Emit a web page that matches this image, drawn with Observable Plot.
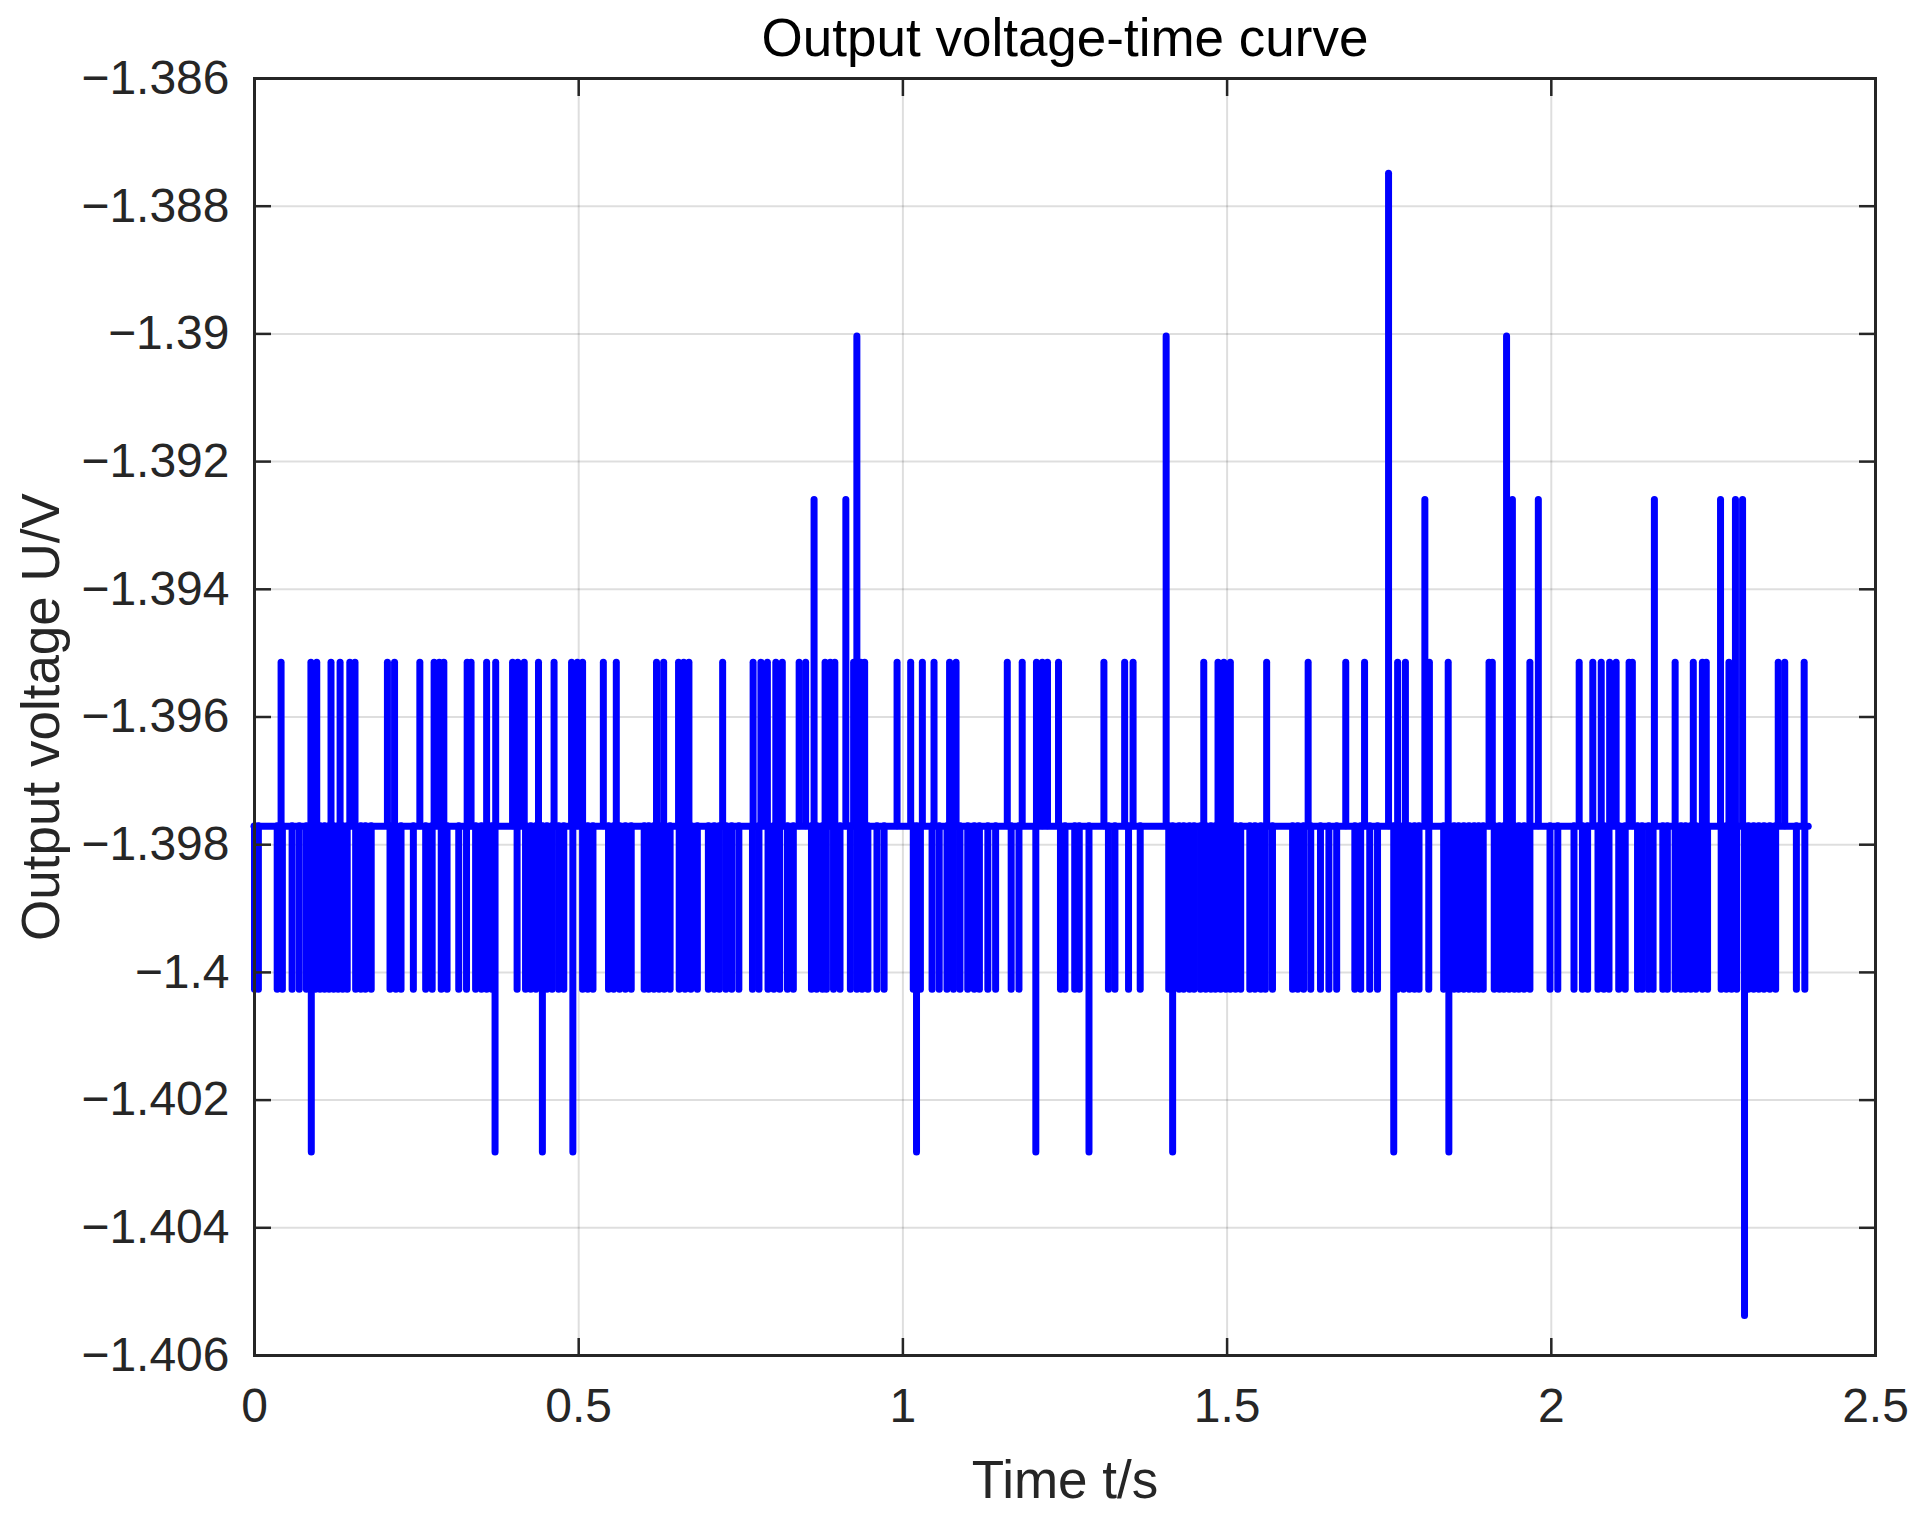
<!DOCTYPE html>
<html>
<head>
<meta charset="utf-8">
<script src="https://cdn.jsdelivr.net/npm/d3@7"></script>
<script src="https://cdn.jsdelivr.net/npm/@observablehq/plot@0.6"></script>
<style>
  html, body { margin: 0; padding: 0; background: #fff; }
</style>
</head>
<body>
<div id="chart"></div>
<script>
// ---- data ----
const titleText = "Output voltage-time curve";
const xLabel = "Time t/s";
const yLabel = "Output voltage U/V";
const xTicks = [0, 0.5, 1, 1.5, 2, 2.5];
const yTicks = [-1.406, -1.404, -1.402, -1.4, -1.398, -1.396, -1.394, -1.392, -1.39, -1.388, -1.386];

const baseLevel = -1.39771;     // resting level
const tStart = 0;
const tEnd = 2.397;

// quantised spike levels
const levelUp1 = -1.39515;
const levelUp2 = -1.39260;
const levelUp3 = -1.39004;
const levelUp4 = -1.38749;
const levelDn1 = -1.40027;
const levelDn2 = -1.40282;
const levelDn3 = -1.40538;

// spike times (s) per level
const up1T = [0.041, 0.087, 0.096, 0.118, 0.132, 0.147, 0.155, 0.205, 0.216, 0.255, 0.277, 0.285, 0.292, 0.328, 0.334, 0.358, 0.372, 0.398, 0.406,
  0.416, 0.438, 0.462, 0.489, 0.498, 0.506, 0.538, 0.558, 0.620, 0.631, 0.654, 0.662, 0.670, 0.722, 0.769, 0.781, 0.791, 0.804, 0.814,
  0.840, 0.850, 0.880, 0.888, 0.895, 0.924, 0.935, 0.941, 0.991, 1.012, 1.030, 1.048, 1.072, 1.082, 1.161, 1.184, 1.206, 1.215, 1.223,
  1.240, 1.310, 1.342, 1.355, 1.464, 1.486, 1.495, 1.505, 1.561, 1.625,
  1.683, 1.712, 1.763, 1.775, 1.812, 1.841, 1.904, 1.909, 1.967, 2.043,
  2.064, 2.077, 2.090, 2.100, 2.120, 2.125, 2.191, 2.219, 2.233, 2.239, 2.274, 2.350, 2.360, 2.390];
const up2T = [0.863, 0.912, 1.805, 1.940, 1.980, 2.159, 2.261, 2.284, 2.295];
const up3T = [0.929, 1.406, 1.931];
const up4T = [1.749];
const dn1T = [0.000, 0.006, 0.035, 0.043, 0.058, 0.069, 0.080, 0.094, 0.101, 0.108, 0.115, 0.122, 0.129, 0.136, 0.143, 0.156, 0.164, 0.171, 0.180,
  0.209, 0.218, 0.226, 0.245, 0.264, 0.274, 0.288, 0.297, 0.315, 0.327, 0.341, 0.350, 0.358, 0.366, 0.405,
  0.418, 0.426, 0.434, 0.451, 0.459, 0.469, 0.477, 0.506, 0.514, 0.522, 0.546, 0.554, 0.563, 0.572, 0.581, 0.601, 0.608, 0.616, 0.624,
  0.632, 0.641, 0.655, 0.664, 0.673, 0.683, 0.700, 0.709, 0.717, 0.727, 0.736, 0.747, 0.768, 0.778, 0.792, 0.801, 0.810,
  0.822, 0.831, 0.859, 0.867, 0.876, 0.882, 0.893, 0.903, 0.919, 0.929, 0.937, 0.946, 0.960, 0.971, 1.016, 1.027, 1.045, 1.056, 1.068,
  1.078, 1.088, 1.100, 1.110, 1.118, 1.131, 1.143, 1.167, 1.179,
  1.243, 1.250, 1.265, 1.272, 1.317, 1.327, 1.348, 1.366, 1.410, 1.426, 1.433, 1.442, 1.449, 1.459, 1.467, 1.475, 1.482, 1.490, 1.498,
  1.505, 1.513, 1.521, 1.535, 1.543, 1.552, 1.559, 1.570, 1.601, 1.609, 1.618, 1.629,
  1.644, 1.657, 1.669, 1.697, 1.706, 1.720, 1.732, 1.763, 1.772, 1.781, 1.789, 1.796, 1.811, 1.834, 1.850, 1.857, 1.865, 1.873, 1.881,
  1.888, 1.895, 1.912, 1.920, 1.927, 1.935, 1.943, 1.950, 1.958, 1.967, 1.998, 2.010, 2.035,
  2.048, 2.056, 2.072, 2.081, 2.089, 2.104, 2.114, 2.133, 2.140, 2.150, 2.157, 2.172, 2.179, 2.191, 2.200, 2.207, 2.215, 2.223, 2.233,
  2.241, 2.262, 2.270, 2.278, 2.286, 2.304, 2.312, 2.320, 2.328, 2.337, 2.346, 2.378, 2.391];
const dn2T = [0.0876, 0.371, 0.444, 0.491, 1.021, 1.205, 1.287, 1.416, 1.757, 1.842];
const dn3T = [2.298];

// ---- build tables ----
const groups = [
  [up1T, levelUp1], [up2T, levelUp2], [up3T, levelUp3], [up4T, levelUp4],
  [dn1T, levelDn1], [dn2T, levelDn2], [dn3T, levelDn3]
];
const spikes = groups.flatMap(([ts, v]) => ts.map(t => ({t, v})));
const baseline = [{t0: tStart, t1: tEnd, v: baseLevel}];

const fmtY = d => (d < 0 ? "\u2212" : "") + String(Math.abs(d));
const fmtX = d => String(d);

const W = 1931, H = 1525;
const ink = "#262626";
const font = "Liberation Sans, Arial, Helvetica, sans-serif";

const chart = Plot.plot({
  width: W,
  height: H,
  marginLeft: 254,
  marginRight: 56,
  marginTop: 78,
  marginBottom: 170,
  style: {fontFamily: font, color: ink, background: "#fff"},
  x: {domain: [0, 2.5], label: null},
  y: {domain: [-1.406, -1.386], label: null},
  marks: [
    Plot.gridX(xTicks, {stroke: "#000", strokeOpacity: 0.13, strokeWidth: 2}),
    Plot.gridY(yTicks, {stroke: "#000", strokeOpacity: 0.13, strokeWidth: 2}),
    Plot.ruleY(baseline, {y: "v", x1: "t0", x2: "t1", stroke: "#0000ff", strokeWidth: 7, strokeLinecap: "round"}),
    Plot.ruleX(spikes, {x: "t", y1: () => baseLevel, y2: "v", stroke: "#0000ff", strokeWidth: 7, strokeLinecap: "round"}),
    Plot.frame({stroke: ink, strokeWidth: 3}),
    // inward ticks on all four sides
    Plot.axisX(xTicks, {anchor: "bottom", tickSize: -17, strokeWidth: 2.5, stroke: ink, fill: "none", label: null, tickFormat: () => ""}),
    Plot.axisX(xTicks, {anchor: "top", tickSize: -17, strokeWidth: 2.5, stroke: ink, fill: "none", label: null, tickFormat: () => ""}),
    Plot.axisY(yTicks, {anchor: "left", tickSize: -17, strokeWidth: 2.5, stroke: ink, fill: "none", label: null, tickFormat: () => ""}),
    Plot.axisY(yTicks, {anchor: "right", tickSize: -17, strokeWidth: 2.5, stroke: ink, fill: "none", label: null, tickFormat: () => ""}),
    // tick labels
    Plot.axisX(xTicks, {anchor: "bottom", tickSize: 0, tickPadding: 32, fontSize: 48, fill: ink, label: null, tickFormat: fmtX}),
    Plot.axisY(yTicks, {anchor: "left", tickSize: 0, tickPadding: 25, fontSize: 48, fill: ink, label: null, tickFormat: fmtY}),
    // title and axis titles
    Plot.text([titleText], {frameAnchor: "top", dy: -23, lineAnchor: "bottom", textAnchor: "middle", fontSize: 53, fill: "#000", text: d => d}),
    Plot.text([xLabel], {frameAnchor: "bottom", dy: 142, lineAnchor: "bottom", textAnchor: "middle", fontSize: 53, fill: ink, text: d => d}),
    Plot.text([yLabel], {frameAnchor: "left", dx: -196, rotate: -90, lineAnchor: "bottom", textAnchor: "middle", fontSize: 53, fill: ink, text: d => d})
  ]
});
document.getElementById("chart").appendChild(chart);
</script>
</body>
</html>
